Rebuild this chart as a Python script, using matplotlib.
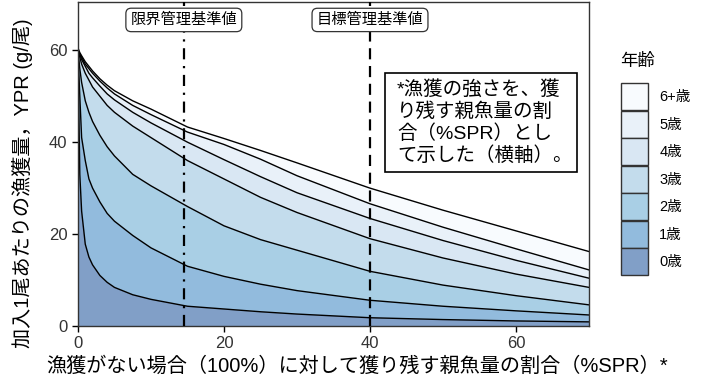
import matplotlib
matplotlib.use("Agg")
import matplotlib.pyplot as plt
from matplotlib.patches import Patch, Rectangle
import numpy as np

plt.rcParams['font.family'] = ['Liberation Sans', 'Noto Sans CJK JP', 'DejaVu Sans']

# %SPR (x axis)
spr = [0, 0.25, 0.5, 1, 1.5, 2, 3, 4, 5, 7.5, 10, 15, 20, 25, 30, 40, 50, 60, 70]

# Cumulative yield per recruit (g/尾) up to and including each age class
ypr_upto_0 = [60, 33, 25, 17.8, 15, 13.3, 11, 9.5, 8.4, 6.8, 5.8, 4.3, 3.7, 3.1, 2.6, 1.8, 1.4, 1.1, 0.9]
ypr_upto_1 = [60, 50, 41, 36, 32, 30, 27, 24.5, 22.8, 19.7, 17, 13.0, 10.8, 9.1, 7.7, 5.6, 4.3, 3.3, 2.4]
ypr_upto_2 = [60, 56, 53, 49, 46.5, 44.5, 41.5, 39, 37, 33, 30.5, 26, 21.8, 18.8, 16.5, 11.9, 8.9, 6.6, 4.6]
ypr_upto_3 = [60, 58.5, 57, 55, 53.5, 52, 50, 48, 46.5, 43.5, 41, 36, 32, 28, 24.7, 19.0, 14.8, 11.3, 8.4]
ypr_upto_4 = [60, 59, 58, 56.5, 55, 54, 52.2, 50.5, 49.2, 46.5, 44.2, 40, 36.2, 32.5, 29, 23.4, 18.6, 14.3, 10.4]
ypr_upto_5 = [60, 59.2, 58.5, 57, 56, 55, 53.3, 51.8, 50.5, 48, 46, 42.2, 39.5, 36.3, 32.7, 26.6, 21.5, 16.8, 12.2]
ypr_upto_6 = [60.5, 59.5, 58.8, 57.5, 56.5, 55.5, 53.8, 52.4, 51.2, 49, 47.2, 43.3, 40.8, 38.2, 35.5, 30.0, 25.2, 20.7, 16.2]

age_labels = ['0歳', '1歳', '2歳', '3歳', '4歳', '5歳', '6+歳']
age_colors = ['#819fc7', '#92bbdd', '#a9cfe5', '#c3dcec', '#d9e7f3', '#e9f1f9', '#f8fbfe']

limit_ref = 14.5   # 限界管理基準値 (%SPR)
target_ref = 40    # 目標管理基準値 (%SPR)

curves = [ypr_upto_0, ypr_upto_1, ypr_upto_2, ypr_upto_3, ypr_upto_4, ypr_upto_5, ypr_upto_6]

fig = plt.figure(figsize=(7.05, 3.8), dpi=100)
ax = fig.add_axes([0.1106, 0.1421, 0.7249, 0.8526])

x = np.array(spr)
lower = np.zeros_like(x, dtype=float)
for cum, col in zip(curves, age_colors):
    upper = np.array(cum, dtype=float)
    ax.fill_between(x, lower, upper, facecolor=col, edgecolor='none', zorder=1)
    lower = upper
for cum in curves:
    ax.plot(x, cum, color='black', lw=1.0, zorder=2)

ax.axvline(limit_ref, color='black', lw=1.6, ls=(0, (5, 3, 1, 3)), zorder=3)
ax.axvline(target_ref, color='black', lw=1.6, ls=(0, (5, 3)), zorder=3)

box_style = dict(boxstyle='round,pad=0.3,rounding_size=0.35', facecolor='white',
                 edgecolor='#333333', lw=0.9)
ax.text(limit_ref, 66.6, '限界管理基準値', ha='center', va='center', fontsize=11,
        bbox=box_style, zorder=5)
ax.text(target_ref, 66.6, '目標管理基準値', ha='center', va='center', fontsize=11,
        bbox=box_style, zorder=5)

# note box
ax.add_patch(Rectangle((42.0, 33.6), 26.4, 21.4, facecolor='white', edgecolor='black',
                       lw=1.2, zorder=5))
ax.text(43.7, 44.3, '*漁獲の強さを、獲\nり残す親魚量の割\n合（%SPR）とし\nて示した（横軸）。',
        ha='left', va='center', fontsize=14, linespacing=1.24, zorder=6)

ax.set_xlim(0, 70)
ax.set_ylim(0, 70.5)
ax.set_xticks([0, 20, 40, 60])
ax.set_yticks([0, 20, 40, 60])
ax.tick_params(axis='both', labelsize=12, labelcolor='#333333', length=4, width=1, color='black')
for s in ax.spines.values():
    s.set_linewidth(1.0)
    s.set_color('#333333')

ax.set_xlabel('漁獲がない場合（100%）に対して獲り残す親魚量の割合（%SPR）*', fontsize=14.5)
ax.xaxis.set_label_coords(0.546, -0.095)
ax.set_ylabel('加入1尾あたりの漁獲量，YPR (g/尾)', fontsize=14.5)
ax.yaxis.set_label_coords(-0.088, 0.44)

handles = [Patch(facecolor=c, edgecolor='#333333', lw=1.0) for c in age_colors][::-1]
leg = fig.legend(handles, age_labels[::-1], title='年齢', loc='upper left',
                 bbox_to_anchor=(0.872, 0.875), frameon=False, fontsize=10.5,
                 title_fontsize=12.5, handlelength=1.9, handleheight=2.45,
                 labelspacing=0.05, handletextpad=0.75, borderaxespad=0)
leg._legend_box.align = 'left'
leg._legend_box.sep = 10

fig.savefig('out.png', dpi=100)
